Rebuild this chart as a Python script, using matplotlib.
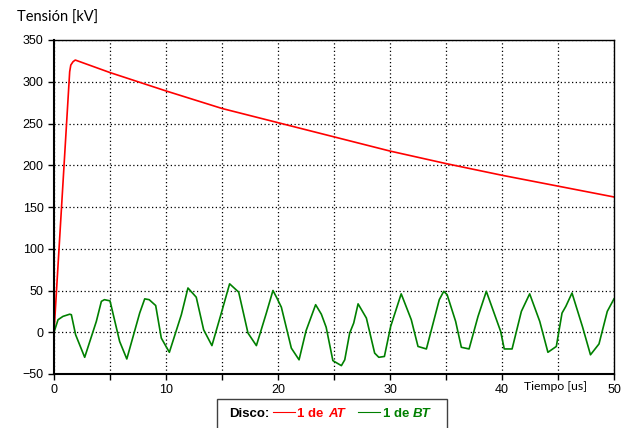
import matplotlib.pyplot as plt
import numpy as np
from matplotlib.lines import Line2D
from matplotlib.patches import Rectangle

# disco 1 de AT (rojo)
t_at = [0, 1.4, 1.5, 1.7, 1.9, 5, 10, 15, 20, 25, 30, 35, 40, 45, 50]
v_at = [0, 312, 320, 324, 326, 311, 289, 268, 251, 234, 217, 202, 188, 175, 162]

# disco 1 de BT (verde)
t_bt = [0, 0.36, 0.8, 1.4, 1.55, 1.93, 2.74, 3.78, 4.23, 4.5, 5.0, 5.86, 6.5, 7.65,
        8.1, 8.5, 9.08, 9.58, 10.3, 11.37, 11.96, 12.7, 13.36, 14.1, 14.94, 15.68,
        16.49, 17.32, 18.07, 18.96, 19.55, 19.9, 20.3, 21.19, 21.88, 22.5, 23.36,
        23.87, 24.3, 24.9, 25.66, 25.96, 26.4, 26.76, 27.15, 27.89, 28.63, 29.0,
        29.5, 30.06, 31.0, 31.9, 32.5, 33.25, 34.4, 34.8, 35.1, 35.86, 36.37, 37.06,
        37.86, 38.6, 39.88, 40.2, 40.9, 41.73, 42.47, 43.37, 44.1, 44.85, 45.36,
        45.7, 46.25, 47.2, 47.9, 48.66, 49.4, 50.0]
v_bt = [0, 15, 19, 21.6, 21, -3, -30, 13, 37, 39, 37.6, -11, -32, 23,
        40, 39, 32, -7, -24, 21, 53, 42, 3, -16, 23, 58,
        48, -1, -16, 23, 50, 41, 30, -19, -33, 1.6, 33,
        21.6, 6, -34, -40, -33, -1, 11, 34, 17, -25, -30,
        -29, 7, 46, 15, -17, -20, 39, 49, 45, 13, -18, -20,
        19, 49, 1, -20, -20, 25, 46, 13, -24, -17, 23,
        31, 47, 6, -27, -14, 25, 40]

x_ticks = [0, 10, 20, 30, 40, 50]
y_ticks = [-50, 0, 50, 100, 150, 200, 250, 300, 350]

fig = plt.figure(figsize=(6.29, 4.28), dpi=100)
ax = fig.add_axes([54/629, 1 - 374/428, 560/629, 334/428])

ax.plot(t_at, v_at, color='#ff0000', lw=1.2)
ax.plot(t_bt, v_bt, color='#008000', lw=1.2)

ax.set_xlim(0, 50)
ax.set_ylim(-50, 350)
ax.set_xticks(x_ticks)
ax.set_xticks(np.arange(5, 50, 10), minor=True)
ax.set_yticks(y_ticks)
ax.grid(True, which='both', color='black', ls=(0, (1, 2)), lw=0.9)
ax.tick_params(which='both', direction='out', length=4, width=1, labelsize=9,
               colors='black')
for lab in ax.get_xticklabels() + ax.get_yticklabels():
    lab.set_family('Liberation Sans')
for sp in ax.spines.values():
    sp.set_linewidth(1.0)
ax.spines['left'].set_linewidth(1.5)
ax.spines['bottom'].set_linewidth(1.5)

fig.text(17/629, 1 - 18/428, 'Tensión [kV]', family='Lato', fontsize=10.5,
         va='center', ha='left')
fig.text(556/629, 1 - 386/428, 'Tiempo [us]', family='Lato', fontsize=8.8,
         va='center', ha='center')

# leyenda
fig.patches.append(Rectangle((217/629, -0.01), 230/629, 1 - 399/428 + 0.01,
                             transform=fig.transFigure, fill=False,
                             edgecolor='#404040', lw=1.0))
yl = 1 - 414/428
fig.text(229/629, yl, 'Disco:', family='Liberation Sans', weight='bold',
         fontsize=9.5, va='center', ha='left')
fig.lines.append(Line2D([273/629, 295/629], [1 - 412/428] * 2,
                        transform=fig.transFigure, color='#ff0000', lw=0.8))
fig.text(297/629, yl, '1 de', family='Liberation Sans', weight='bold',
         fontsize=9.5, va='center', ha='left', color='#ff0000')
fig.text(328/629, yl, 'AT', family='Liberation Sans', weight='bold',
         style='italic', fontsize=9.5, va='center', ha='left', color='#ff0000')
fig.lines.append(Line2D([358/629, 380/629], [1 - 412/428] * 2,
                        transform=fig.transFigure, color='#008000', lw=0.8))
fig.text(383/629, yl, '1 de', family='Liberation Sans', weight='bold',
         fontsize=9.5, va='center', ha='left', color='#008000')
fig.text(413/629, yl, 'BT', family='Liberation Sans', weight='bold',
         style='italic', fontsize=9.5, va='center', ha='left', color='#008000')

fig.savefig('out.png', dpi=100)
